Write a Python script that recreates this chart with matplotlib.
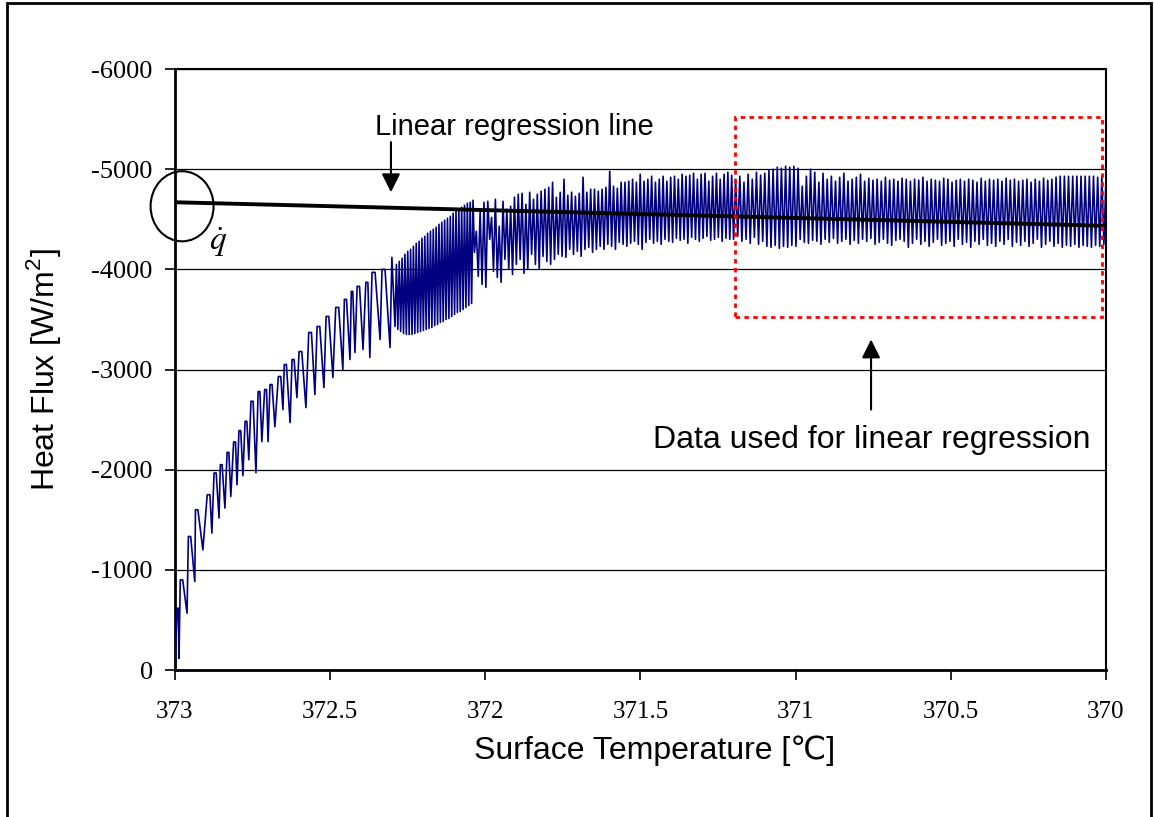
import numpy as np
import matplotlib
matplotlib.use("Agg")
import matplotlib.pyplot as plt
from matplotlib.patches import Ellipse, Rectangle

# first stretch of the trace, read point by point: temperature [C] and heat flux [W/m2]
# (even index = trough, odd index = top of a hump)
seg_a_T = [
    373.000, 372.990, 372.987, 372.981, 372.961, 372.955, 372.936, 372.933, 372.910, 372.890,
    372.881, 372.871, 372.858, 372.852, 372.839, 372.829, 372.820, 372.807, 372.800, 372.791,
    372.781, 372.771, 372.762, 372.752, 372.739, 372.729, 372.720, 372.707, 372.700, 372.691,
    372.678, 372.662, 372.652, 372.646, 372.629, 372.620, 372.607, 372.597, 372.578, 372.565,
    372.549, 372.539, 372.520, 372.510, 372.491, 372.478, 372.459, 372.452, 372.436, 372.430,
    372.420, 372.410, 372.394, 372.381, 372.372, 372.362, 372.339, 372.330, 372.307, 372.301,
]
seg_a_q = [
    0, -617, -117, -900, -567, -1333, -883, -1600, -1200, -1750,
    -1367, -1967, -1517, -2050, -1617, -2173, -1733, -2277, -1850, -2390,
    -1940, -2483, -2100, -2683, -1970, -2780, -2280, -2800, -2280, -2850,
    -2430, -2930, -2600, -3050, -2470, -3100, -2720, -3180, -2620, -3370,
    -2750, -3430, -2820, -3530, -2920, -3620, -3000, -3700, -3100, -3780,
    -3170, -3830, -3200, -3870, -3120, -3970, -3300, -4000, -3220, -4120,
]

# later stretches: edges [C] and heat flux alternating trough / peak [W/m2]
seg_edges = [372.291, 372.035, 371.2, 370.0]
seg_b = [
    -3430, -4050, -3400, -4080, -3380, -4110, -3360, -4150, -3350, -4180, -3350, -4200, -3350, -4230,
    -3360, -4260, -3370, -4280, -3380, -4310, -3390, -4330, -3400, -4360, -3410, -4380, -3420, -4400,
    -3440, -4420, -3450, -4450, -3470, -4470, -3480, -4490, -3500, -4510, -3510, -4530, -3530, -4560,
    -3550, -4580, -3570, -4600, -3580, -4620, -3600, -4640, -3620, -4660, -3640, -4670, -3660, -4690,
]
seg_c = [
    -4170, -4380, -3930, -4580, -3850, -4670, -3820, -4680, -4300, -4520, -3980, -4700, -3920, -4430, -3870, -4680,
    -4100, -4600, -4000, -4630, -3950, -4720, -4050, -4750, -4100, -4760, -3960, -4650, -4000, -4770, -4150, -4700,
    -4050, -4750, -4000, -4780, -4130, -4800, -4080, -4820, -4050, -4870, -4100, -4720, -4150, -4770, -4130, -4900,
    -4120, -4740, -4200, -4770, -4150, -4730, -4180, -4760, -4130, -4920, -4200, -4770, -4220, -4800, -4170, -4800,
    -4200, -4780, -4230, -4800, -4200, -4820, -4250, -4980, -4230, -4830, -4200, -4810, -4270, -4870, -4250, -4870,
    -4230, -4880, -4260, -4900, -4280, -4870, -4250, -4950, -4200, -4880, -4270, -4900, -4300, -4930, -4260, -4870,
    -4280, -4900, -4250, -4930, -4300, -4880, -4280, -4920, -4270, -4930, -4310, -4900, -4290, -4950, -4300, -4930,
    -4260, -4940, -4320, -4960, -4300, -4900, -4280, -4950, -4310, -4960, -4330, -4880, -4290, -4930, -4300, -4960,
    -4320, -4900, -4280, -4950, -4310, -4970, -4300, -4940,
]
seg_d = [
    -4300, -4900, -4330, -4930, -4280, -4870, -4300, -4950, -4260, -4900, -4320, -4970, -4250, -4940, -4280, -4960,
    -4230, -4990, -4220, -5000, -4240, -5020, -4210, -5010, -4230, -5030, -4220, -5020, -4240, -5030, -4230, -5010,
    -4300, -4830, -4270, -4930, -4260, -5000, -4290, -4970, -4280, -4870, -4250, -4960, -4300, -4900, -4270, -4930,
    -4310, -4880, -4260, -4920, -4280, -4960, -4300, -4880, -4250, -4900, -4290, -4920, -4260, -4950, -4300, -4880,
    -4280, -4910, -4310, -4890, -4250, -4900, -4270, -4880, -4300, -4920, -4260, -4890, -4240, -4900, -4290, -4880,
    -4300, -4910, -4280, -4900, -4220, -4880, -4260, -4900, -4300, -4890, -4250, -4920, -4280, -4880, -4230, -4900,
    -4270, -4890, -4300, -4880, -4240, -4910, -4260, -4900, -4280, -4870, -4230, -4890, -4300, -4900, -4250, -4880,
    -4270, -4900, -4220, -4890, -4280, -4870, -4250, -4910, -4300, -4880, -4240, -4900, -4260, -4890, -4230, -4900,
    -4280, -4880, -4250, -4910, -4300, -4890, -4230, -4900, -4270, -4880, -4240, -4890, -4280, -4900, -4230, -4870,
    -4260, -4900, -4300, -4880, -4220, -4910, -4250, -4890, -4280, -4900, -4230, -4920, -4260, -4930, -4220, -4930,
    -4240, -4930, -4230, -4930, -4250, -4930, -4220, -4930, -4240, -4930, -4230, -4930, -4220, -4930, -4240, -4920,
    -4230, -4930, -4250, -4920,
]

# linear regression line end points
reg_T = [373.0, 370.0]
reg_q = [-4670, -4435]

x_ticks = [373, 372.5, 372, 371.5, 371, 370.5, 370]
x_labels = ["373", "372.5", "372", "371.5", "371", "370.5", "370"]
y_ticks = [0, -1000, -2000, -3000, -4000, -5000, -6000]
y_labels = ["0", "-1000", "-2000", "-3000", "-4000", "-5000", "-6000"]

plt.rcParams["mathtext.fontset"] = "custom"
plt.rcParams["mathtext.rm"] = "Liberation Sans"

# humps of the first stretch have broad tops and sharp troughs:
# each top is drawn as a short flat stretch at its read value
a_T = np.array(seg_a_T)
a_q = np.array(seg_a_q, dtype=float)
hump_T, hump_q = [], []
for i in range(len(a_T)):
    if i % 2 == 1 and i + 1 < len(a_T):
        gl = a_T[i - 1] - a_T[i]
        gr = a_T[i] - a_T[i + 1]
        hump_T += [a_T[i] + 0.3 * gl, a_T[i] - 0.3 * gr]
        hump_q += [a_q[i], a_q[i]]
    else:
        hump_T.append(a_T[i])
        hump_q.append(a_q[i])

T_all = [np.array(hump_T)]
q_all = [np.array(hump_q)]
segs = [seg_b, seg_c, seg_d]
for i, s in enumerate(segs):
    last = i == len(segs) - 1
    T_all.append(np.linspace(seg_edges[i], seg_edges[i + 1], len(s), endpoint=last))
    q_all.append(np.array(s, dtype=float))
T_all = np.concatenate(T_all)
q_all = np.concatenate(q_all)

fig = plt.figure(figsize=(11.54, 8.17), dpi=100)
ax = fig.add_axes([0.1516, 0.1799, 0.8068, 0.7356])

# outer frame of the picture
fig.patches.append(Rectangle((7 / 1154, -0.02), 1144 / 1154, 1 - 3 / 817 + 0.02,
                             transform=fig.transFigure, fill=False,
                             edgecolor="black", lw=2))

ax.plot(T_all, q_all, color="#000080", lw=1.2, zorder=3)
ax.plot(reg_T, reg_q, color="black", lw=2.8, zorder=4)

ax.set_xlim(373, 370)
ax.set_ylim(0, -6000)
ax.set_xticks(x_ticks)
ax.set_xticklabels(x_labels, fontfamily="Liberation Serif", fontsize=18)
ax.set_yticks(y_ticks)
ax.set_yticklabels(y_labels, fontfamily="Liberation Serif", fontsize=19)
ax.tick_params(axis="x", direction="out", length=7, width=1.2, pad=15)
ax.tick_params(axis="y", direction="out", length=7, width=1.2, pad=9)
ax.yaxis.grid(True, color="black", lw=0.9)
ax.set_axisbelow(True)
for sp in ax.spines.values():
    sp.set_linewidth(1.5)
ax.spines["left"].set_linewidth(2)
ax.spines["bottom"].set_linewidth(2)

ax.set_xlabel("Surface Temperature [\u2103]", family=["Liberation Sans", "DejaVu Sans"],
              fontsize=23)
ax.xaxis.set_label_coords(0.5156, -0.108)
ax.set_ylabel(r"Heat Flux [W/m$^\mathrm{2}$]", family="Liberation Sans",
              fontsize=23, labelpad=20)

# annotations
ax.add_patch(Ellipse((372.977, -4630), width=0.203, height=700, fill=False,
                     edgecolor="black", lw=1.5, clip_on=False, zorder=5))
ax.text(372.86, -4270, r"$\dot{q}$", fontsize=24, math_fontfamily="stix",
        ha="center", va="center")

ax.text(371.907, -5420, "Linear regression line", family="Liberation Sans",
        fontsize=21, ha="center", va="center")
ax.annotate("", xy=(372.304, -4770), xytext=(372.304, -5270),
            arrowprops=dict(arrowstyle="-|>", color="black", lw=1.5,
                            mutation_scale=28, shrinkA=0, shrinkB=0))

ax.add_patch(Rectangle((371.195, -3520), 370.013 - 371.195, -2000, fill=False,
                       edgecolor="red", lw=2, linestyle=(0, (1.6, 1.6)), zorder=5))
ax.annotate("", xy=(370.757, -3300), xytext=(370.757, -2600),
            arrowprops=dict(arrowstyle="-|>", color="black", lw=1.5,
                            mutation_scale=28, shrinkA=0, shrinkB=0))
ax.text(370.754, -2300, "Data used for linear regression", family="Liberation Sans",
        fontsize=23, ha="center", va="center")

fig.savefig("out.png", dpi=100)
